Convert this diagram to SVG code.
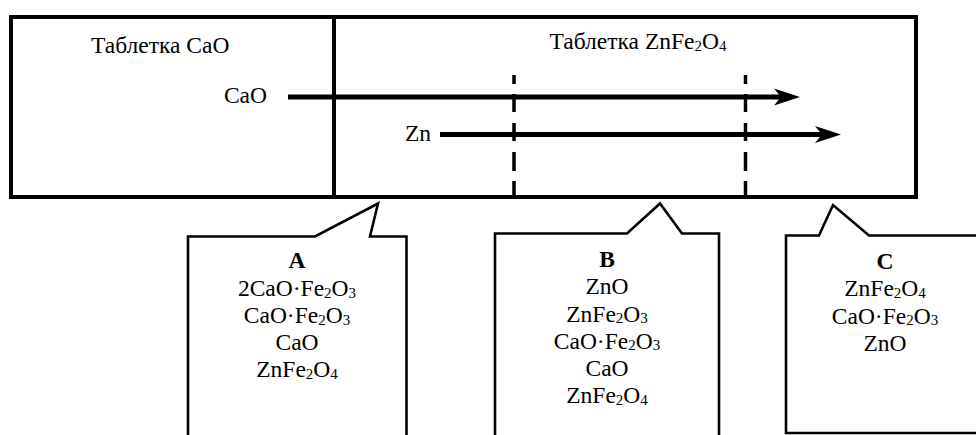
<svg xmlns="http://www.w3.org/2000/svg" width="976" height="435" viewBox="0 0 976 435">
<style>
text{font-family:"Liberation Serif","Times New Roman",serif;font-size:23.5px;fill:#000}
.m{text-anchor:middle}
.b{font-weight:bold}
.s{font-size:15px}
.frame{fill:none;stroke:#000;stroke-width:4}
.call{fill:#fff;stroke:#000;stroke-width:2.6;stroke-linejoin:miter}
.dash{fill:none;stroke:#000;stroke-width:3.5}
.arr{fill:none;stroke:#000;stroke-width:5}
</style>
<defs>
<marker id="ah" markerUnits="userSpaceOnUse" orient="auto" markerWidth="40" markerHeight="30" refX="0" refY="0" viewBox="-10 -15 40 30" overflow="visible">
<path d="M19,0 L-7,-8.5 L0,0 L-7,8.5 Z" fill="#000"/>
</marker>
</defs>
<g id="tablet">
<rect class="frame" x="11" y="17" width="905" height="180"/>
<line x1="334" y1="17" x2="334" y2="197" stroke="#000" stroke-width="4"/>
<text x="91" y="53">Таблетка CaO</text>
<text class="m" x="638" y="49">Таблетка ZnFe<tspan class="s" dy="1.5">2</tspan><tspan dy="-1.5">O</tspan><tspan class="s" dy="1.5">4</tspan></text>
</g>
<g id="zones">
<path class="dash" d="M514,75 V84 M514,94 V112 M514,123 V141 M514,152 V171 M514,181 V196"/>
<path class="dash" d="M745.5,75 V84 M745.5,94 V112 M745.5,123 V141 M745.5,152 V171 M745.5,181 V196"/>
</g>
<g id="connectors">
<line class="arr" x1="288" y1="97" x2="781" y2="97" marker-end="url(#ah)"/>
<line class="arr" x1="440" y1="134.5" x2="822" y2="134.5" marker-end="url(#ah)"/>
</g>
<g id="label-cao"><text x="267" y="103" text-anchor="end">CaO</text></g>
<g id="label-zn"><text x="431" y="141" text-anchor="end">Zn</text></g>
<g id="callout-a">
<path class="call" d="M188,445 V236.5 H315 L378,203.5 L370,236.5 H406.5 V445"/>
<text class="m b" x="297" y="268">A</text>
<text class="m" x="297" y="296">2CaO·Fe<tspan class="s" dy="1.5">2</tspan><tspan dy="-1.5">O</tspan><tspan class="s" dy="1.5">3</tspan></text>
<text class="m" x="297" y="323">CaO·Fe<tspan class="s" dy="1.5">2</tspan><tspan dy="-1.5">O</tspan><tspan class="s" dy="1.5">3</tspan></text>
<text class="m" x="297" y="350">CaO</text>
<text class="m" x="297" y="377">ZnFe<tspan class="s" dy="1.5">2</tspan><tspan dy="-1.5">O</tspan><tspan class="s" dy="1.5">4</tspan></text>
</g>
<g id="callout-b">
<path class="call" d="M495,445 V233.5 H627 L660,203.5 L682,233.5 H719 V445"/>
<text class="m b" x="607" y="267">B</text>
<text class="m" x="607" y="294">ZnO</text>
<text class="m" x="607" y="321.5">ZnFe<tspan class="s" dy="1.5">2</tspan><tspan dy="-1.5">O</tspan><tspan class="s" dy="1.5">3</tspan></text>
<text class="m" x="607" y="348.5">CaO·Fe<tspan class="s" dy="1.5">2</tspan><tspan dy="-1.5">O</tspan><tspan class="s" dy="1.5">3</tspan></text>
<text class="m" x="607" y="376">CaO</text>
<text class="m" x="607" y="403">ZnFe<tspan class="s" dy="1.5">2</tspan><tspan dy="-1.5">O</tspan><tspan class="s" dy="1.5">4</tspan></text>
</g>
<g id="callout-c">
<path class="call" d="M990,433 H786 V235.5 H819 L833,205 L869,235.5 H990"/>
<text class="m b" x="885" y="269">C</text>
<text class="m" x="885" y="296">ZnFe<tspan class="s" dy="1.5">2</tspan><tspan dy="-1.5">O</tspan><tspan class="s" dy="1.5">4</tspan></text>
<text class="m" x="885" y="323.5">CaO·Fe<tspan class="s" dy="1.5">2</tspan><tspan dy="-1.5">O</tspan><tspan class="s" dy="1.5">3</tspan></text>
<text class="m" x="885" y="351">ZnO</text>
</g>
</svg>
